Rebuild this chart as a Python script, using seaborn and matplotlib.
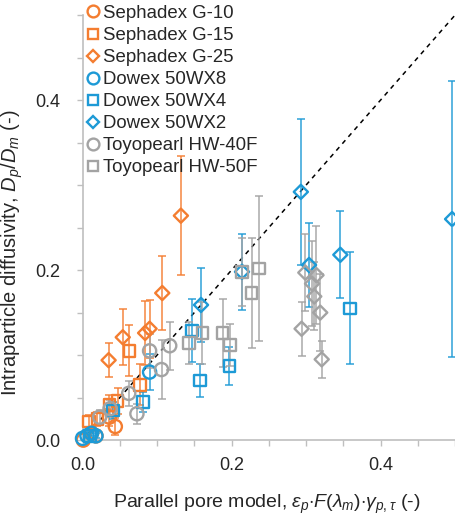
import numpy as np
import pandas as pd
import matplotlib
matplotlib.use("Agg")
import matplotlib.pyplot as plt
import seaborn as sns
from matplotlib.ticker import MultipleLocator

sns.set_style("white")
plt.rcParams['font.family'] = ['Liberation Sans', 'DejaVu Sans']
plt.rcParams['mathtext.fontset'] = 'custom'
plt.rcParams['mathtext.rm'] = 'Liberation Sans'
plt.rcParams['mathtext.it'] = 'Liberation Sans:italic'
plt.rcParams['mathtext.bf'] = 'Liberation Sans:bold'

# ---- data ----
g10_x = [0.001, 0.012, 0.018, 0.036, 0.044]
g10_y = [0.000, 0.008, 0.005, 0.027, 0.016]
g10_e = [0.004, 0.006, 0.006, 0.010, 0.010]

g15_x = [0.009, 0.020, 0.036, 0.047, 0.077, 0.063]
g15_y = [0.022, 0.025, 0.041, 0.046, 0.065, 0.105]
g15_e = [0.008, 0.008, 0.012, 0.015, 0.024, 0.030]

g25_x = [0.035, 0.054, 0.084, 0.090, 0.107, 0.132]
g25_y = [0.094, 0.121, 0.126, 0.131, 0.173, 0.264]
g25_e = [0.020, 0.033, 0.038, 0.034, 0.043, 0.070]

wx8_x = [0.000, 0.006, 0.012, 0.018, 0.090]
wx8_y = [0.002, 0.005, 0.008, 0.005, 0.080]
wx8_e = [0.002, 0.003, 0.003, 0.003, 0.021]

wx4_x = [0.010, 0.041, 0.081, 0.147, 0.158, 0.197, 0.359]
wx4_y = [0.005, 0.035, 0.045, 0.129, 0.070, 0.087, 0.155]
wx4_e = [0.004, 0.010, 0.012, 0.037, 0.019, 0.022, 0.066]

wx2_x = [0.159, 0.214, 0.293, 0.304, 0.346, 0.496]
wx2_y = [0.159, 0.198, 0.292, 0.206, 0.218, 0.260]
wx2_e = [0.044, 0.045, 0.086, 0.049, 0.051, 0.162]

hw40_x = [0.023, 0.037, 0.062, 0.073, 0.090, 0.106, 0.117]
hw40_y = [0.027, 0.037, 0.055, 0.031, 0.105, 0.083, 0.111]
hw40_e = [0.008, 0.010, 0.015, 0.012, 0.020, 0.035, 0.028]

hw50_x = [0.143, 0.161, 0.188, 0.198, 0.214, 0.227, 0.237]
hw50_y = [0.114, 0.126, 0.126, 0.112, 0.198, 0.173, 0.202]
hw50_e = [0.025, 0.036, 0.040, 0.025, 0.040, 0.065, 0.085]

hw65_x = [0.294, 0.299, 0.314, 0.308, 0.311, 0.319, 0.321]
hw65_y = [0.131, 0.197, 0.194, 0.184, 0.169, 0.150, 0.095]
hw65_e = [0.032, 0.045, 0.058, 0.050, 0.040, 0.045, 0.022]

ORANGE = '#F47D30'
BLUE = '#1D9AD6'
GRAY = '#A3A3A3'

series = [
    ("Sephadex G-10", g10_x, g10_y, g10_e, ORANGE, 'o', True),
    ("Sephadex G-15", g15_x, g15_y, g15_e, ORANGE, 's', True),
    ("Sephadex G-25", g25_x, g25_y, g25_e, ORANGE, 'D', True),
    ("Dowex 50WX8", wx8_x, wx8_y, wx8_e, BLUE, 'o', True),
    ("Dowex 50WX4", wx4_x, wx4_y, wx4_e, BLUE, 's', True),
    ("Dowex 50WX2", wx2_x, wx2_y, wx2_e, BLUE, 'D', True),
    ("Toyopearl HW-40F", hw40_x, hw40_y, hw40_e, GRAY, 'o', True),
    ("Toyopearl HW-50F", hw50_x, hw50_y, hw50_e, GRAY, 's', True),
    ("Toyopearl HW-65F", hw65_x, hw65_y, hw65_e, GRAY, 'D', False),
]

rows = []
for name, xs, ys, es, c, m, leg in series:
    for x, y, e in zip(xs, ys, es):
        rows.append(dict(series=name, x=x, y=y, err=e))
df = pd.DataFrame(rows)

fig = plt.figure(figsize=(4.56, 5.19), dpi=100)
ax = fig.add_axes([0.181, 0.152, 0.817, 0.819])

# identity line
ax.plot([0, 0.5], [0, 0.5], ls=(0, (3, 3)), color='black', lw=1.1, zorder=1)

sizes = {'o': 90, 's': 70, 'D': 52}
handles = []
for name, xs, ys, es, c, m, leg in series:
    sub = df[df.series == name]
    ax.errorbar(sub.x, sub.y, yerr=sub.err, fmt='none', ecolor=c, elinewidth=1.2,
                capsize=2.8, capthick=1.2, alpha=0.85, zorder=2)
    sns.scatterplot(data=sub, x='x', y='y', ax=ax, marker=m, s=sizes[m],
                    facecolor='none', edgecolor=c, linewidth=1.7, zorder=3,
                    legend=False, clip_on=False)
    if leg:
        h = plt.Line2D([], [], marker=m, ls='none', mfc='none', mec=c, mew=1.7,
                       ms={'o': 8.5, 's': 7.5, 'D': 6.5}[m], label=name)
        handles.append(h)

ax.set_xlim(0, 0.5)
ax.set_ylim(0, 0.5)
ax.xaxis.set_major_locator(MultipleLocator(0.2))
ax.yaxis.set_major_locator(MultipleLocator(0.2))
ax.xaxis.set_minor_locator(MultipleLocator(0.05))
ax.yaxis.set_minor_locator(MultipleLocator(0.05))
ax.xaxis.set_major_formatter(matplotlib.ticker.FormatStrFormatter('%.1f'))
ax.yaxis.set_major_formatter(matplotlib.ticker.FormatStrFormatter('%.1f'))

for s in ['top', 'right']:
    ax.spines[s].set_visible(False)
for s in ['left', 'bottom']:
    ax.spines[s].set_color('#BFBFBF')
    ax.spines[s].set_linewidth(1.2)
ax.tick_params(which='both', direction='out', color='#BFBFBF', width=1.0,
               length=4, labelsize=13, bottom=True, left=True)
ax.tick_params(axis='y', which='major', pad=12)
ax.tick_params(axis='x', which='major', pad=8)

ax.set_xlabel(r'Parallel pore model, $\varepsilon_p{\cdot}F(\lambda_m){\cdot}\gamma_{p,\tau}$ (-)',
              fontsize=14)
ax.xaxis.set_label_coords(0.495, -0.125)
ax.set_ylabel(r'Intraparticle diffusivity, $D_p/D_m$ (-)', fontsize=14.5)
ax.yaxis.set_label_coords(-0.155, 0.44)

fig.legend(handles=handles, loc='upper left', bbox_to_anchor=(0.183, 0.994),
           frameon=False, fontsize=13.4, handlelength=0.8, handletextpad=0.15,
           labelspacing=0.27, borderpad=0.1, borderaxespad=0)

fig.savefig('out.png', dpi=100)
